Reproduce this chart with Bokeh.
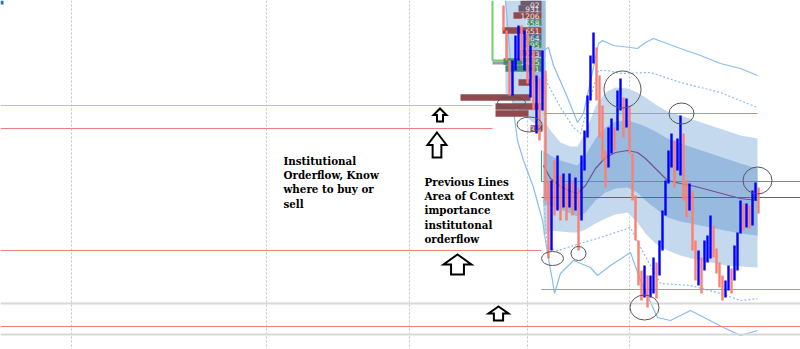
from bokeh.plotting import figure
from bokeh.models import Range1d
from bokeh.core.properties import value
from bokeh.embed import file_html
from bokeh.resources import INLINE

# ---------------- data (price in chart units; larger value = lower price) ----------------
candle_open = [5, 30, 60, 95, 70, 60, 25, 70, 33, 97, 50, 133, 77, 110, 70, 180, 250, 160, 210, 175,
               207, 183, 207, 180, 210, 187, 220, 170, 137, 100, 63, 47, 75, 105, 150, 167, 153, 127, 130, 110,
               97, 127, 105, 153, 195, 240, 270, 297, 275, 297, 293, 262, 275, 250, 215, 183, 167, 140, 170, 175,
               133, 180, 210, 190, 240, 285, 257, 270, 262, 258, 225, 248, 262, 275, 297, 290, 268, 280, 270, 233,
               203, 227, 205, 225, 200, 187]
candle_close = [30, 60, 95, 60, 35, 25, 60, 30, 83, 45, 110, 75, 140, 50, 200, 258, 180, 215, 155, 220,
                173, 220, 173, 215, 177, 250, 155, 130, 95, 55, 32, 100, 137, 160, 187, 127, 118, 150, 90, 78,
                137, 98, 153, 200, 240, 285, 300, 265, 307, 275, 257, 298, 240, 210, 180, 150, 133, 187, 138, 115,
                200, 217, 183, 250, 280, 250, 293, 240, 235, 215, 257, 273, 287, 300, 280, 265, 293, 245, 232, 200,
                230, 203, 228, 190, 182, 213]

band_x = [543, 550, 560, 570, 577, 585, 595, 605, 615, 627, 637, 645, 655, 667, 680, 695, 710, 725, 740, 757]
vwap   = [165, 178, 186, 191, 193, 185, 168, 157, 152, 150, 152, 158, 168, 180, 183, 186, 190, 194, 198, 200]
sd1_up = [150, 155, 160, 163, 165, 155, 138, 127, 121, 120, 123, 126, 131, 138, 143, 148, 153, 158, 163, 168]
sd1_dn = [205, 205, 209, 213, 216, 212, 200, 192, 188, 187, 192, 200, 208, 217, 221, 224, 227, 230, 233, 235]
sd2_up = [120, 130, 142, 146, 146, 132, 106, 92, 87, 88, 92, 97, 104, 111, 115, 120, 125, 130, 135, 138]
sd2_dn = [235, 230, 231, 232, 232, 229, 223, 218, 214, 212, 222, 233, 243, 250, 255, 259, 262, 265, 266, 267]

sd3_up_x = [543, 547, 560, 573, 580, 590, 598, 607, 620, 650, 680, 720, 757]
sd3_up   = [63, 83, 107, 127, 133, 97, 70, 70, 73, 72, 82, 92, 107]
sd3_dn_x = [543, 547, 557, 567, 573, 600, 630, 640, 660, 690, 717, 740, 757]
sd3_dn   = [200, 247, 250, 247, 245, 237, 227, 247, 283, 285, 292, 300, 298]
sd4_up_x = [543, 548, 553, 567, 577, 583, 593, 598, 602, 613, 630, 637, 645, 653, 680, 700, 720, 740, 757]
sd4_up   = [50, 47, 65, 97, 122, 113, 67, 43, 40, 45, 47, 48, 42, 38, 48, 55, 63, 68, 75]
sd4_dn_x = [505, 510, 513, 517, 523, 533, 542, 547, 552, 554, 560, 573, 590, 597, 610, 630, 640, 657, 670, 690, 723, 740, 757]
sd4_dn   = [0, 60, 110, 140, 160, 187, 220, 253, 280, 293, 273, 260, 267, 275, 265, 252, 280, 317, 320, 310, 327, 335, 330]

# volume profile rows
vp_price  = [2, 8, 15, 22, 30, 37, 44, 53, 61, 68, 82, 97, 106, 113, 128]
vp_start  = [520, 518, 513, 527, 502, 525, 525, 520, 503, 505, 518, 460, 495, 495, 530]
vp_end    = [541, 541, 541, 541, 541, 541, 541, 541, 541, 541, 530, 530, 540, 528, 542]
vp_side   = ["s", "s", "m", "g", "m", "b", "g", "s", "g", "g", "m", "m", "m", "m", "m"]
vp_label  = ["02", "931", "1206", "558", "651", "364", "595", "1223", "1405", "21", "", "", "", "", "335"]
vp_label_y = [4.5, 8, 15, 22, 30, 37, 44, 53, 61, 68, 82, 97, 106, 113, 128]

# horizontal price levels
lvl_price = [105, 128, 250, 113, 181, 197, 289, 326]
lvl_from  = [0, 0, 0, 543, 541, 541, 541, 0]
lvl_to    = [492, 492, 541, 757, 800, 800, 800, 800]
lvl_color = ["#90e090", "#f08080", "#f08080", "#f08080", "#4aa37c", "#9b4b63", "#f08080", "#f08080"]
gray_levels = [303, 334]
grid_x = [71, 266, 409, 527, 629]

# circled turning points: time position, price, size
circ_x = [511, 529, 622, 681, 757, 552, 578, 644]
circ_y = [102, 124, 89, 113, 180, 258, 253, 307]
circ_w = [28, 25, 37, 25, 29, 22, 15, 29]
circ_h = [11, 15, 37, 21, 27, 14, 14, 25]

# outlined up arrows: centre x, top, width, height
arr_x = [439.5, 436.5, 457, 498]
arr_top = [108, 132, 254, 306]
arr_w = [13, 19, 28, 20]
arr_h = [13, 25, 20, 14]

note1 = "Institutional\nOrderflow, Know\nwhere to buy or\nsell"
note2 = "Previous Lines\nArea of Context\nimportance\ninstitutonal\norderflow"

# ---------------- figure ----------------
p = figure(width=800, height=349, x_range=Range1d(0, 800), y_range=Range1d(349, 0),
           x_axis_location=None, y_axis_location=None, toolbar_location=None,
           output_backend="svg", min_border=0, outline_line_color=None,
           background_fill_color="white", border_fill_color="white")
p.grid.visible = False

# vertical dotted grid
for gx in grid_x:
    p.segment(x0=[gx], y0=[0], x1=[gx], y1=[349], line_color="#c4c4c4", line_width=1, line_dash="2 2")

# previous session band shading
p.varea(x=[505, 520, 545], y1=[0, 0, 0], y2=[92, 112, 132], fill_color="#c4d8ee")
p.varea(x=[528, 545], y1=[0, 0], y2=[75, 95], fill_color="#9dbde2")

# bands
p.varea(x=band_x, y1=sd2_up, y2=sd2_dn, fill_color="#c4d8ee")
p.varea(x=band_x, y1=sd1_up, y2=sd1_dn, fill_color="#98badf")
p.line(sd3_up_x, sd3_up, line_color="#88bdf0", line_width=1.2, line_dash="2 2")
p.line(sd3_dn_x, sd3_dn, line_color="#88bdf0", line_width=1.2, line_dash="2 2")
p.line(sd4_up_x, sd4_up, line_color="#88bdf0", line_width=1.2)
p.line(sd4_dn_x, sd4_dn, line_color="#88bdf0", line_width=1.2)

# level lines
p.segment(x0=[0, 0], y0=gray_levels, x1=[800, 800], y1=gray_levels, line_color="#d8d8d8", line_width=2)
p.segment(x0=lvl_from, y0=lvl_price, x1=lvl_to, y1=lvl_price, line_color=lvl_color, line_width=1.2)
p.segment(x0=[541], y0=[150], x1=[541], y1=[181], line_color="#4aa37c", line_width=1.2)

# green box of the profile
p.line([492, 492, 541], [0, 60, 60], line_color="#6ad46a", line_width=2)
p.quad(left=[492], right=[541], top=[61], bottom=[64], fill_color="#8fa0a8", line_color=None)

# volume profile
side_col = {"m": "#8e4a4e", "s": "#6f5a6c", "g": "#3f8f6a", "b": "#4a6a8a"}
p.hbar(y=vp_price, left=vp_start, right=vp_end, height=[6.5] * len(vp_price),
       fill_color=[side_col[s] for s in vp_side], line_color=None)
p.text(x=[539] * len(vp_label), y=vp_label_y, text=vp_label, text_align="right", text_baseline="middle",
       text_font=value("DejaVu Sans"), text_font_size="7.5px", text_color="#ececec")

# vwap
p.line(band_x, vwap, line_color="#70508f", line_width=1.2)

# candles
cx = [503 + 3 * i for i in range(len(candle_open))]
ctop = [min(o, c) for o, c in zip(candle_open, candle_close)]
cbot = [max(o, c) for o, c in zip(candle_open, candle_close)]
ccol = ["#0000ff" if c < o else "#fa8072" for o, c in zip(candle_open, candle_close)]
p.vbar(x=cx, width=2.4, top=ctop, bottom=cbot, fill_color=ccol, line_color=None)

# circles
p.ellipse(x=circ_x, y=circ_y, width=circ_w, height=circ_h, fill_color=None,
          line_color="#555555", line_width=1)

# arrows
axs, ays = [], []
for x0, t, w, h in zip(arr_x, arr_top, arr_w, arr_h):
    hh = 0.5 * h
    sw = 0.46 * w
    axs.append([x0, x0 + w / 2, x0 + sw / 2, x0 + sw / 2, x0 - sw / 2, x0 - sw / 2, x0 - w / 2])
    ays.append([t, t + hh, t + hh, t + h, t + h, t + hh, t + hh])
p.patches(axs, ays, fill_color="white", line_color="black", line_width=2, line_join="miter")

# notes
p.text(x=[283], y=[154], text=[note1], text_font=value("DejaVu Serif"), text_font_style="bold",
       text_font_size="10.3px", text_baseline="top", text_line_height=1.2, text_color="black")
p.text(x=[424], y=[175], text=[note2], text_font=value("DejaVu Serif"), text_font_style="bold",
       text_font_size="10.3px", text_baseline="top", text_line_height=1.2, text_color="black")

# top-left marker
p.quad(left=[0], right=[3], top=[0], bottom=[4], fill_color="#1f6fd0", line_color=None)

open("out.html", "w").write(file_html(p, INLINE))
